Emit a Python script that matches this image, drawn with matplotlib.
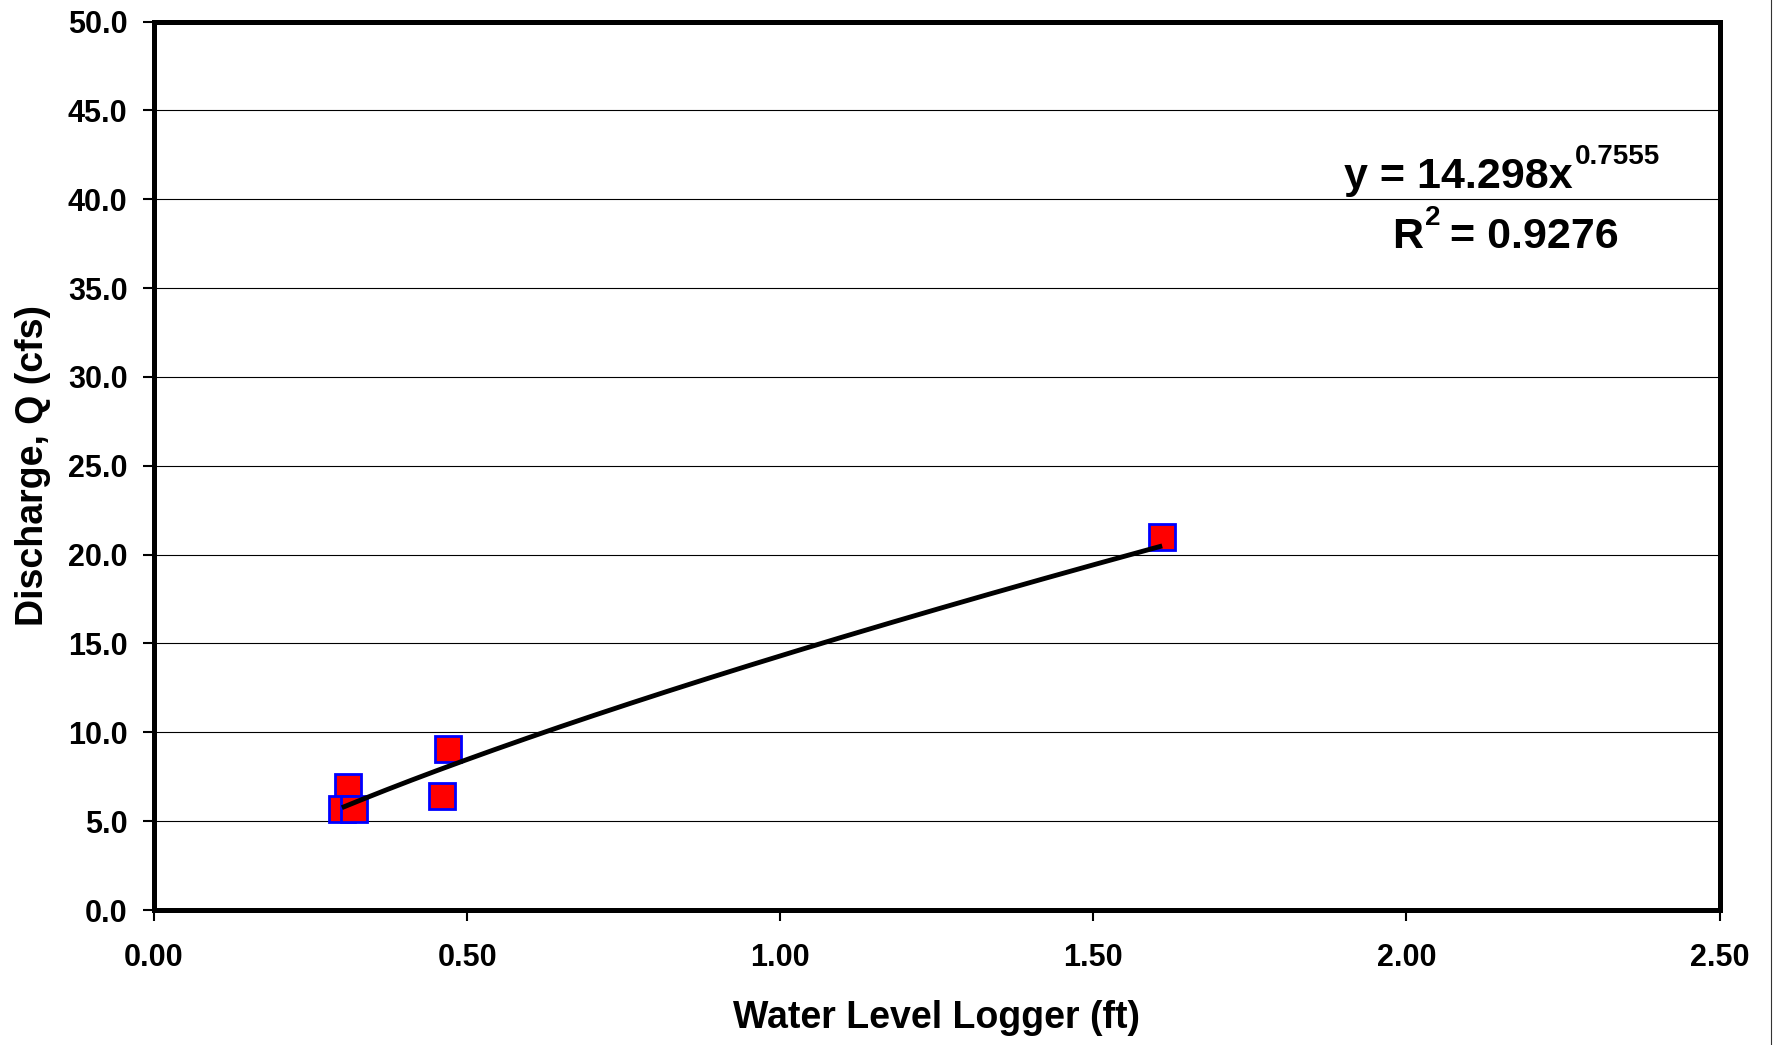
import numpy as np
import matplotlib
matplotlib.use("Agg")
import matplotlib.pyplot as plt
from matplotlib.ticker import FormatStrFormatter, MultipleLocator
from matplotlib.lines import Line2D

# ---- data ----
logger_ft = [1.61, 0.47, 0.46, 0.31, 0.30, 0.32]
discharge_cfs = [21.0, 9.05, 6.4, 6.9, 5.7, 5.7]
fit_coef = 14.298
fit_exp = 0.7555
r_squared = 0.9276
x_label = "Water Level Logger (ft)"
y_label = "Discharge, Q (cfs)"

plt.rcParams['font.family'] = ['Liberation Sans', 'DejaVu Sans']
plt.rcParams['font.weight'] = 'bold'

W, H = 1775, 1045
fig = plt.figure(figsize=(W / 100, H / 100), dpi=100)
ax = fig.add_axes([154 / W, 1 - 910 / H, (1719.5 - 154) / W, (910 - 21.5) / H])

# grid
ax.set_axisbelow(True)
ax.yaxis.grid(True, color='black', linewidth=0.8)
ax.xaxis.grid(False)

# trendline (Excel power fit shown on the chart)
xs = np.linspace(min(logger_ft), max(logger_ft), 200)
ax.plot(xs, fit_coef * xs ** fit_exp, color='black', linewidth=3.5, zorder=3,
        solid_capstyle='butt')

# data points
ax.plot(logger_ft, discharge_cfs, linestyle='none', marker='s', markersize=19,
        markerfacecolor='#FF0000', markeredgecolor='#0000FF', markeredgewidth=2,
        zorder=2)

ax.set_xlim(0, 2.5)
ax.set_ylim(0, 50)
ax.xaxis.set_major_locator(MultipleLocator(0.5))
ax.yaxis.set_major_locator(MultipleLocator(5))
ax.xaxis.set_major_formatter(FormatStrFormatter('%.2f'))
ax.yaxis.set_major_formatter(FormatStrFormatter('%.1f'))

for s in ax.spines.values():
    s.set_linewidth(3.6)
    s.set_color('black')

ax.tick_params(axis='x', direction='out', length=8, width=1.5, pad=16,
               labelsize=22)
ax.tick_params(axis='y', direction='out', length=8, width=1.5, pad=11,
               labelsize=22)
for lab in ax.get_xticklabels() + ax.get_yticklabels():
    lab.set_fontweight('bold')

ax.set_xlabel(x_label, fontsize=27, fontweight='bold')
ax.set_ylabel(y_label, fontsize=27, fontweight='bold')
ax.xaxis.set_label_coords(0.5, -0.101)
ax.yaxis.set_label_coords(-0.066, 0.5)

# equation annotation (positions in figure pixels)
def fx(px):
    return px / W

def fy(py):
    return 1 - py / H

fig.text(fx(1573), fy(188), f"y = {fit_coef:.3f}x", fontsize=31, fontweight='bold',
         ha='right', va='baseline')
fig.text(fx(1575), fy(164), f"{fit_exp:.4f}", fontsize=20, fontweight='bold',
         ha='left', va='baseline')
fig.text(fx(1392), fy(248), "R", fontsize=31, fontweight='bold',
         ha='left', va='baseline')
fig.text(fx(1425), fy(225), "2", fontsize=20, fontweight='bold',
         ha='left', va='baseline')
fig.text(fx(1450), fy(248), f"= {r_squared:.4f}", fontsize=31, fontweight='bold',
         ha='left', va='baseline')

# thin chart border at right edge
fig.add_artist(Line2D([1771 / W, 1771 / W], [0, 1], transform=fig.transFigure,
                      color='#333333', linewidth=0.8))

fig.savefig("out.png", dpi=100)
